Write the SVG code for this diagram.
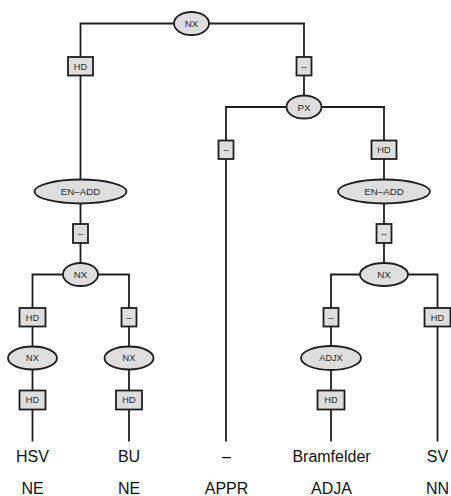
<svg xmlns="http://www.w3.org/2000/svg" width="451" height="496" viewBox="0 0 451 496">
<style>
.e{fill:#dedede;stroke:#1e1e1e;stroke-width:1.8}
.b{fill:#dedede;stroke:#1e1e1e;stroke-width:1.8}
.c{fill:none;stroke:#1e1e1e;stroke-width:1.8}
.l{font-family:"Liberation Sans",Arial,sans-serif;font-size:9.8px;fill:#2a2a2a;text-anchor:middle}
.s{font-family:"Liberation Sans",Arial,sans-serif;font-size:9.2px;fill:#2a2a2a;text-anchor:middle}
.w{font-family:"Liberation Sans",Arial,sans-serif;font-size:16px;fill:#111;text-anchor:middle}
</style>
<rect width="451" height="496" fill="#fff"/>
<g id="connectors">
<path class="c" d="M80.5,191.5 V23.5 H304 V107"/>
<path class="c" d="M226,441.5 V107 H384 V274.5"/>
<path class="c" d="M80.5,191.5 V274.5"/>
<path class="c" d="M32.5,441.5 V274.5 H129 V441.5"/>
<path class="c" d="M331,441.5 V274.5 H437.5 V441.5"/>
</g>
<g id="n_nx_top"><ellipse class="e" cx="191.5" cy="23.5" rx="17.5" ry="11.5"/><text class="l" x="191.5" y="27">NX</text></g>
<g id="e_hd_top"><rect class="b" x="68" y="57" width="25" height="18.5"/><text class="s" x="80.5" y="69.5">HD</text></g>
<g id="e_dash_top"><rect class="b" x="296.5" y="57" width="15" height="18.5"/><text class="s" x="304" y="69.5">–</text></g>
<g id="n_px"><ellipse class="e" cx="304" cy="107" rx="17.5" ry="11.5"/><text class="l" x="304" y="110.5">PX</text></g>
<g id="e_dash_px"><rect class="b" x="218.5" y="140.5" width="15" height="18.5"/><text class="s" x="226" y="153">–</text></g>
<g id="e_hd_px"><rect class="b" x="371.5" y="140.5" width="25" height="18.5"/><text class="s" x="384" y="153">HD</text></g>
<g id="n_enadd_l"><ellipse class="e" cx="80.5" cy="191.5" rx="46" ry="12"/><text class="l" x="80.5" y="195">EN–ADD</text></g>
<g id="n_enadd_r"><ellipse class="e" cx="384" cy="191.5" rx="46" ry="12"/><text class="l" x="384" y="195">EN–ADD</text></g>
<g id="e_dash_enl"><rect class="b" x="73" y="224" width="15" height="19"/><text class="s" x="80.5" y="236.5">–</text></g>
<g id="e_dash_enr"><rect class="b" x="376.5" y="224" width="15" height="19"/><text class="s" x="384" y="236.5">–</text></g>
<g id="n_nx_l"><ellipse class="e" cx="80.5" cy="274.5" rx="17.5" ry="11.5"/><text class="l" x="80.5" y="278">NX</text></g>
<g id="n_nx_r"><ellipse class="e" cx="384" cy="274.5" rx="24" ry="11.5"/><text class="l" x="384" y="278">NX</text></g>
<g id="e_hd_1"><rect class="b" x="19.5" y="308" width="26" height="18.5"/><text class="s" x="32.5" y="320.5">HD</text></g>
<g id="e_dash_2"><rect class="b" x="121.5" y="308" width="15" height="18.5"/><text class="s" x="129" y="320.5">–</text></g>
<g id="e_dash_4"><rect class="b" x="323.5" y="308" width="15" height="18.5"/><text class="s" x="331" y="320.5">–</text></g>
<g id="e_hd_5"><rect class="b" x="424.5" y="308" width="26" height="18.5"/><text class="s" x="437.5" y="320.5">HD</text></g>
<g id="n_nx_1"><ellipse class="e" cx="32.5" cy="358" rx="24.5" ry="11.5"/><text class="s" x="32.5" y="361.3">NX</text></g>
<g id="n_nx_2"><ellipse class="e" cx="129" cy="358" rx="24.5" ry="11.5"/><text class="s" x="129" y="361.3">NX</text></g>
<g id="n_adjx"><ellipse class="e" cx="331" cy="358" rx="30" ry="12"/><text class="s" x="331" y="361.3">ADJX</text></g>
<g id="e_hd_b1"><rect class="b" x="19.5" y="390.5" width="26" height="19"/><text class="s" x="32.5" y="403.3">HD</text></g>
<g id="e_hd_b2"><rect class="b" x="116" y="390.5" width="26" height="19"/><text class="s" x="129" y="403.3">HD</text></g>
<g id="e_hd_b4"><rect class="b" x="317.5" y="390.5" width="27" height="19"/><text class="s" x="331" y="403.3">HD</text></g>
<g id="words">
<text class="w" x="32.5" y="461.5">HSV</text>
<text class="w" x="129" y="461.5">BU</text>
<text class="w" x="226.5" y="461.5">–</text>
<text class="w" x="331.5" y="461.5">Bramfelder</text>
<text class="w" x="437.5" y="461.5">SV</text>
</g>
<g id="tags">
<text class="w" x="32.5" y="494">NE</text>
<text class="w" x="129" y="494">NE</text>
<text class="w" x="226.5" y="494">APPR</text>
<text class="w" x="331.5" y="494">ADJA</text>
<text class="w" x="437.5" y="494">NN</text>
</g>
</svg>
